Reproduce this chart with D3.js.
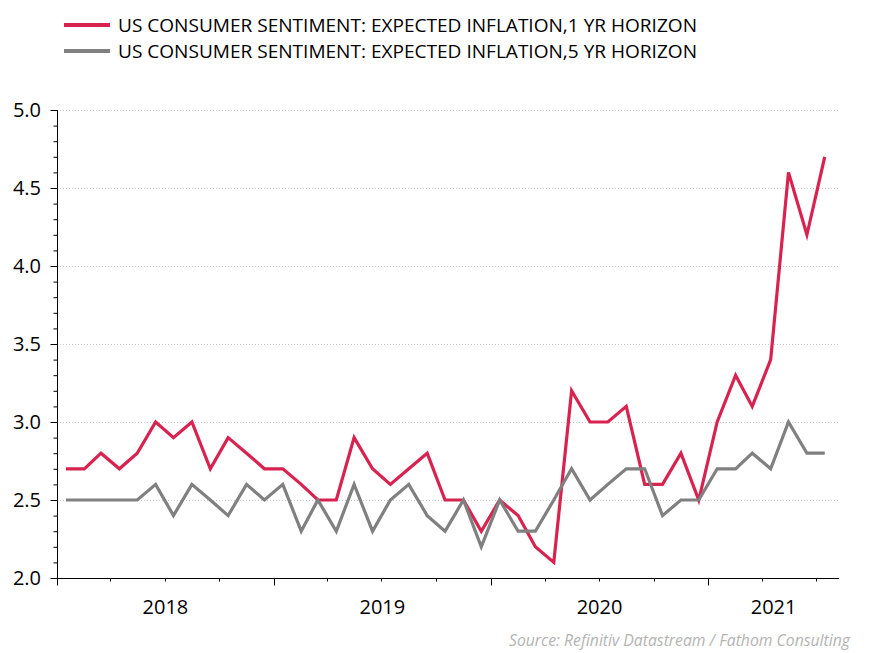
<!DOCTYPE html>
<html>
<head>
<meta charset="utf-8">
<script src="https://cdn.jsdelivr.net/npm/d3@7"></script>
<style>
  body { margin: 0; background: #fff; }
  svg { display: block; font-family: "Open Sans", sans-serif; }
</style>
</head>
<body>
<svg id="canvas" width="871" height="653"></svg>
<script>
// monthly, Jan 2018 .. Jul 2021
let startYear = 2018, startMonth = 0;
let oneYear = [2.7, 2.7, 2.8, 2.7, 2.8, 3.0, 2.9, 3.0, 2.7, 2.9, 2.8, 2.7,
               2.7, 2.6, 2.5, 2.5, 2.9, 2.7, 2.6, 2.7, 2.8, 2.5, 2.5, 2.3,
               2.5, 2.4, 2.2, 2.1, 3.2, 3.0, 3.0, 3.1, 2.6, 2.6, 2.8, 2.5,
               3.0, 3.3, 3.1, 3.4, 4.6, 4.2, 4.7];
let fiveYear = [2.5, 2.5, 2.5, 2.5, 2.5, 2.6, 2.4, 2.6, 2.5, 2.4, 2.6, 2.5,
                2.6, 2.3, 2.5, 2.3, 2.6, 2.3, 2.5, 2.6, 2.4, 2.3, 2.5, 2.2,
                2.5, 2.3, 2.3, 2.5, 2.7, 2.5, 2.6, 2.7, 2.7, 2.4, 2.5, 2.5,
                2.7, 2.7, 2.8, 2.7, 3.0, 2.8, 2.8];
let seriesNames = ["US CONSUMER SENTIMENT: EXPECTED INFLATION,1 YR HORIZON",
                   "US CONSUMER SENTIMENT: EXPECTED INFLATION,5 YR HORIZON"];
let seriesColors = ["#d8224f", "#808080"];
let yTicks = [2.0, 2.5, 3.0, 3.5, 4.0, 4.5, 5.0];
let yearLabels = [2018, 2019, 2020, 2021];
let sourceText = "Source: Refinitiv Datastream / Fathom Consulting";

let canvas = d3.select("#canvas");
let plot = { left: 57, right: 839, top: 110, bottom: 578 };

let dates = oneYear.map((v, i) => new Date(startYear, startMonth + i, 16));
let xEnd = new Date(2021, 7, 9);

let x = d3.scaleTime()
    .domain([new Date(startYear, startMonth, 1), xEnd])
    .range([plot.left, plot.right]);
let y = d3.scaleLinear().domain([2, 5]).range([plot.bottom, plot.top]);

//Gridlines
canvas.append("g")
    .selectAll("line")
    .data(yTicks.slice(1))
    .join("line")
    .attr("x1", plot.left).attr("x2", plot.right)
    .attr("y1", d => y(d) + 0.5).attr("y2", d => y(d) + 0.5)
    .attr("stroke", "#c8c8c8")
    .attr("stroke-width", 1)
    .attr("stroke-dasharray", "1,2");

//Y axis
let yAxis = canvas.append("g").attr("transform", "translate(" + (plot.left + 0.5) + ",0)");
yAxis.append("line")
    .attr("y1", plot.top).attr("y2", plot.bottom)
    .attr("stroke", "#000");
yAxis.selectAll(".minor")
    .data(d3.range(20, 51).map(d => d / 10))
    .join("line")
    .attr("x1", d => Math.round(d * 10) % 5 === 0 ? -7 : -4)
    .attr("x2", 0)
    .attr("y1", d => y(d) + 0.5).attr("y2", d => y(d) + 0.5)
    .attr("stroke", "#000");
yAxis.selectAll("text")
    .data(yTicks)
    .join("text")
    .attr("x", -16.5)
    .attr("y", d => y(d))
    .attr("dy", "0.36em")
    .attr("text-anchor", "end")
    .style("font-size", "20px")
    .attr("fill", "#000")
    .text(d => d.toFixed(1));

//X axis
let xAxis = canvas.append("g").attr("transform", "translate(0," + (plot.bottom + 0.5) + ")");
xAxis.append("line")
    .attr("x1", plot.left).attr("x2", plot.right)
    .attr("stroke", "#000");
let quarters = d3.timeMonth.every(3).range(new Date(startYear, 0, 1), xEnd);
xAxis.selectAll(".tick")
    .data(quarters)
    .join("line")
    .attr("x1", d => Math.round(x(d)) + 0.5).attr("x2", d => Math.round(x(d)) + 0.5)
    .attr("y1", 0)
    .attr("y2", d => d.getMonth() === 0 ? 7 : 3)
    .attr("stroke", "#000");
xAxis.selectAll("text")
    .data(yearLabels)
    .join("text")
    .attr("x", d => {
        let a = Math.max(x(new Date(d, 0, 1)), plot.left);
        let b = Math.min(x(new Date(d + 1, 0, 1)), plot.right);
        return (a + b) / 2;
    })
    .attr("y", 35)
    .attr("text-anchor", "middle")
    .style("font-size", "20px")
    .attr("fill", "#000")
    .text(d => d);

//Lines
let line = d3.line()
    .x((d, i) => x(dates[i]))
    .y(d => y(d));
[oneYear, fiveYear].forEach((s, k) => {
    canvas.append("path")
        .datum(s)
        .attr("d", line)
        .attr("fill", "none")
        .attr("stroke", seriesColors[k])
        .attr("stroke-width", 3.2)
        .attr("stroke-linejoin", "miter");
});

//Legend
let legend = canvas.append("g");
seriesNames.forEach((name, k) => {
    let ly = 25 + k * 26;
    legend.append("line")
        .attr("x1", 64).attr("x2", 110)
        .attr("y1", ly).attr("y2", ly)
        .attr("stroke", seriesColors[k])
        .attr("stroke-width", 4);
    legend.append("text")
        .attr("x", 118)
        .attr("y", ly + 7)
        .attr("textLength", 579)
        .attr("lengthAdjust", "spacingAndGlyphs")
        .style("font-size", "18px")
        .attr("fill", "#000")
        .text(name);
});

//Source
canvas.append("text")
    .attr("x", 850)
    .attr("y", 646)
    .attr("text-anchor", "end")
    .attr("textLength", 341)
    .attr("lengthAdjust", "spacingAndGlyphs")
    .style("font-size", "16px")
    .style("font-style", "italic")
    .attr("fill", "#b4b4b4")
    .text(sourceText);
</script>
</body>
</html>
